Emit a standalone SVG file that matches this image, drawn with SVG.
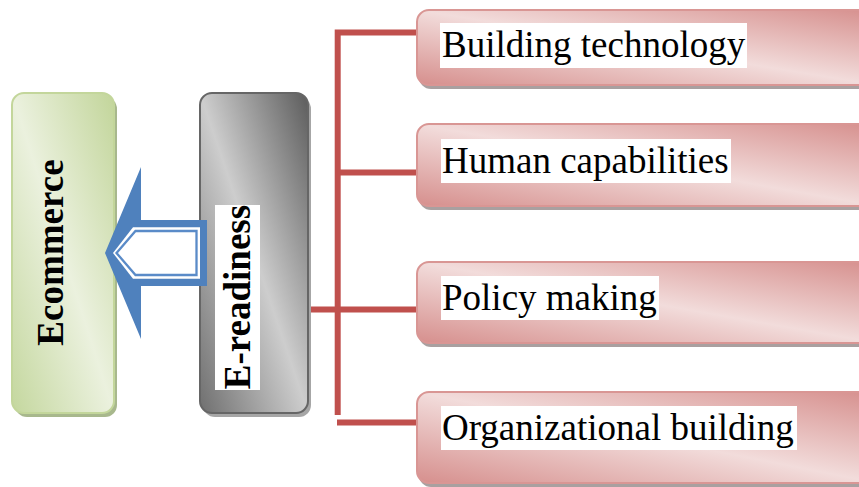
<svg xmlns="http://www.w3.org/2000/svg" width="859" height="487" viewBox="0 0 859 487">
  <style>
    .lbl { font-family: "Liberation Serif", "Times New Roman", serif; font-size: 37px; fill: #000; }
    .bold { font-weight: bold; }
    .tag { fill: #ffffff; }
    .link { fill: none; stroke: #c0504d; stroke-width: 6; stroke-linecap: butt; stroke-linejoin: miter; }
    .factor { fill: url(#gRed); stroke: #d99694; stroke-width: 2; }
    .factorShadow { fill: #a9a0a0; }
  </style>
  <defs>
    <linearGradient id="gRed" x1="0" y1="1" x2="1" y2="0">
      <stop offset="0" stop-color="#d68f8d"/>
      <stop offset="0.5" stop-color="#f2dcdb"/>
      <stop offset="1" stop-color="#d68f8d"/>
    </linearGradient>
    <linearGradient id="gGray" x1="0" y1="1" x2="1" y2="0">
      <stop offset="0" stop-color="#6f6f6f"/>
      <stop offset="0.5" stop-color="#cdcdcd"/>
      <stop offset="1" stop-color="#5c5c5c"/>
    </linearGradient>
    <linearGradient id="gGreen" x1="0" y1="1" x2="1" y2="0">
      <stop offset="0" stop-color="#c4d79e"/>
      <stop offset="0.5" stop-color="#ebf1de"/>
      <stop offset="1" stop-color="#c2d59a"/>
    </linearGradient>
  </defs>
  <rect width="859" height="487" fill="#ffffff"/>

  <!-- tree connectors -->
  <g id="connectors">
    <path class="link" d="M337.7,415 V32.5 H417"/>
    <path class="link" d="M337.7,172.5 H417"/>
    <path class="link" d="M307,309.5 H417"/>
    <path class="link" d="M337,422.5 H417"/>
  </g>

  <g id="ecommerce">
    <rect x="15" y="97" width="102" height="320" rx="12" fill="#a8b88d"/>
    <rect x="12" y="93" width="102" height="320" rx="12" fill="url(#gGreen)" stroke="#c3d69b" stroke-width="2"/>
    <text class="lbl bold" transform="translate(63,252.5) rotate(-90)" text-anchor="middle">Ecommerce</text>
  </g>

  <g id="ereadiness">
    <rect x="203" y="97" width="108" height="320" rx="12" fill="#a6a6a6"/>
    <rect x="200" y="93" width="108" height="320" rx="12" fill="url(#gGray)" stroke="#666666" stroke-width="2"/>
    <rect class="tag" x="215" y="205" width="45" height="185"/>
    <text class="lbl bold" transform="translate(250,297) rotate(-90)" text-anchor="middle">E-readiness</text>
  </g>

  <!-- hollow block arrow from E-readiness to Ecommerce -->
  <g id="arrow">
    <path d="M105,253 L141,167 L141,220 L207,220 L207,286 L141,286 L141,339 Z" fill="#4f81bd"/>
    <path d="M113,253 L133,227.3 L200,227.3 L200,278.7 L133,278.7 Z" fill="#ffffff"/>
    <path d="M116.5,253 L135.5,231 L196.5,231 L196.5,275 L135.5,275 Z" fill="#ffffff" stroke="#5a8bc8" stroke-width="2.3"/>
  </g>

  <g id="building-technology">
    <rect class="factorShadow" x="419" y="14" width="460" height="75" rx="12"/>
    <rect class="factor" x="417" y="10" width="460" height="75" rx="12"/>
    <rect class="tag" x="440" y="23" width="307" height="45"/>
    <text class="lbl" x="442" y="57">Building technology</text>
  </g>

  <g id="human-capabilities">
    <rect class="factorShadow" x="419" y="128" width="460" height="82" rx="12"/>
    <rect class="factor" x="417" y="124" width="460" height="82" rx="12"/>
    <rect class="tag" x="441" y="139" width="290" height="44"/>
    <text class="lbl" x="442" y="173">Human capabilities</text>
  </g>

  <g id="policy-making">
    <rect class="factorShadow" x="419" y="266" width="460" height="81" rx="12"/>
    <rect class="factor" x="417" y="262" width="460" height="81" rx="12"/>
    <rect class="tag" x="441" y="276" width="218" height="44"/>
    <text class="lbl" x="442" y="310">Policy making</text>
  </g>

  <g id="organizational-building">
    <rect class="factorShadow" x="419" y="396" width="460" height="91" rx="12"/>
    <rect class="factor" x="417" y="392" width="460" height="91" rx="12"/>
    <rect class="tag" x="441" y="406" width="356" height="44"/>
    <text class="lbl" x="442" y="440">Organizational building</text>
  </g>
</svg>
